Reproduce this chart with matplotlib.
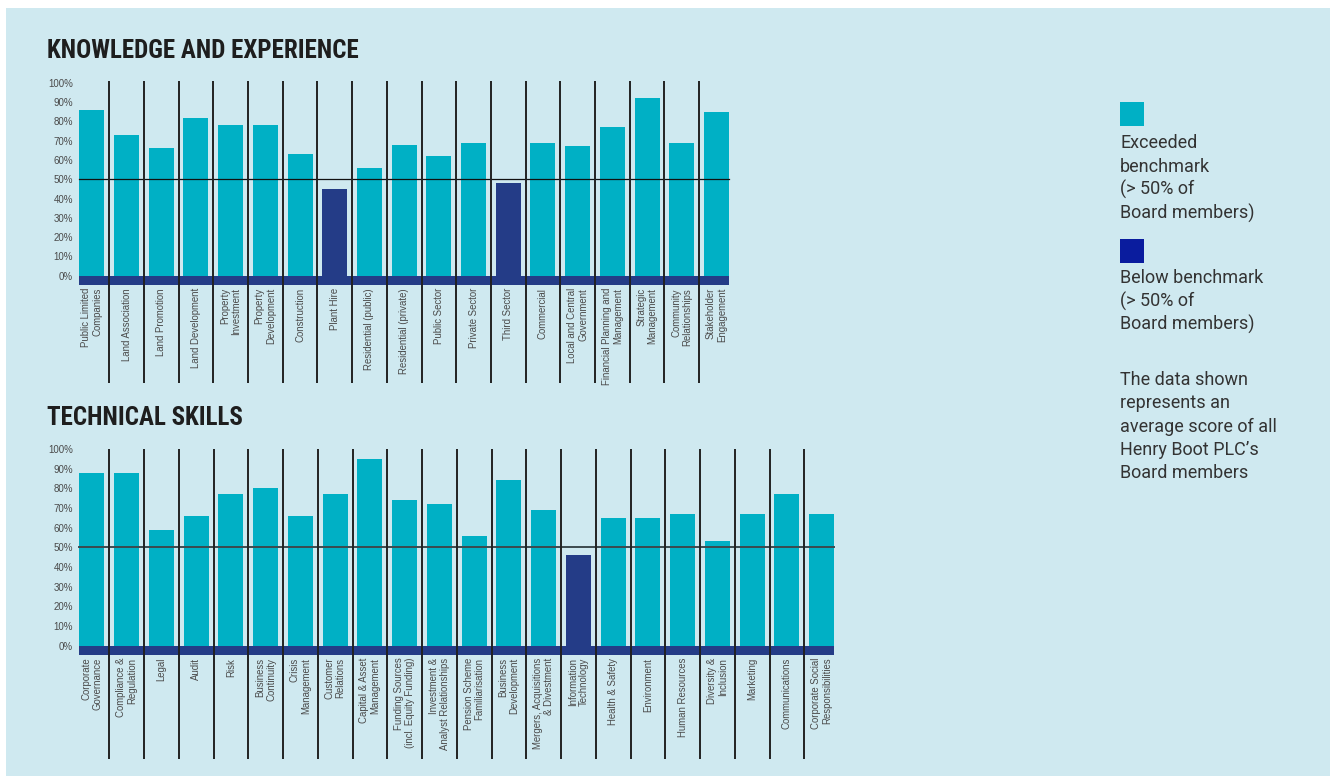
import matplotlib
matplotlib.use("Agg")
import matplotlib.pyplot as plt
from matplotlib.patches import Rectangle
from matplotlib import font_manager as fm

# ---------------- data ----------------
knowledge_categories = [
    "Public Limited\nCompanies", "Land Association", "Land Promotion", "Land Development",
    "Property\nInvestment", "Property\nDevelopment", "Construction", "Plant Hire",
    "Residential (public)", "Residential (private)", "Public Sector", "Private Sector",
    "Third Sector", "Commercial", "Local and Central\nGovernment",
    "Financial Planning and\nManagement", "Strategic\nManagement",
    "Community\nRelationships", "Stakeholder\nEngagement",
]
knowledge_values = [86, 73, 66, 82, 78, 78, 63, 45, 56, 68, 62, 69, 48, 69, 67, 77, 92, 69, 85]

technical_categories = [
    "Corporate\nGovernance", "Compliance &\nRegulation", "Legal", "Audit", "Risk",
    "Business\nContinuity", "Crisis\nManagement", "Customer\nRelations",
    "Capital & Asset\nManagement", "Funding Sources\n(incl. Equity Funding)",
    "Investment &\nAnalyst Relationships", "Pension Scheme\nFamiliarisation",
    "Business\nDevelopment", "Mergers, Acquisitions\n& Divestment",
    "Information\nTechnology", "Health & Safety", "Environment", "Human Resources",
    "Diversity &\nInclusion", "Marketing", "Communications",
    "Corporate Social\nResponsibilities",
]
technical_values = [88, 88, 59, 66, 77, 80, 66, 77, 95, 74, 72, 56, 84, 69, 46, 65, 65, 67, 53, 67, 77, 67]

benchmark = 50
y_ticks = list(range(0, 101, 10))
y_tick_labels = [f"{v}%" for v in y_ticks]

# ---------------- styles ----------------
BG = "#cfe9f0"
CYAN = "#00b0c5"
NAVY = "#243c87"
LEGEND_NAVY = "#0a1c9e"
DIV = "#222222"
TXT = "#4a4a4a"

names = {f.name for f in fm.fontManager.ttflist}
title_family = [n for n in ["Roboto Condensed", "Liberation Sans Narrow", "Liberation Sans"] if n in names][:1] or ["DejaVu Sans"]
label_family = ["Liberation Sans", "DejaVu Sans"]
legend_family = ["Roboto", "Liberation Sans", "DejaVu Sans"]

W, H = 1337, 776
fig = plt.figure(figsize=(W / 100, H / 100), dpi=100, facecolor="white")
fig.patches.append(Rectangle((6 / W, 0), (1330 - 6) / W, (H - 8) / H,
                             transform=fig.transFigure, facecolor=BG, edgecolor="none", zorder=-5))


def px_axes(left, top, width, bottom):
    return fig.add_axes([left / W, (H - bottom) / H, width / W, (bottom - top) / H])


def draw_panel(ax, cats, vals, ylo, yhi, band_h, grid_color, grid_lw):
    n = len(cats)
    ax.set_facecolor("none")
    ax.set_xlim(-0.5, n - 0.5)
    ax.set_ylim(ylo, yhi)
    for s in ax.spines.values():
        s.set_visible(False)
    colors = [NAVY if v < benchmark else CYAN for v in vals]
    bw = 0.72
    ax.bar(range(n), vals, width=bw, color=colors, zorder=2)
    ax.add_patch(Rectangle((-bw / 2, -band_h), n - 1 + bw, band_h,
                           facecolor=NAVY, edgecolor="none", zorder=3))
    ax.plot([-bw / 2, n - 1 + bw / 2], [benchmark, benchmark], color=grid_color, lw=grid_lw, zorder=4)
    for k in range(1, n):
        ax.axvline(k - 0.5, color=DIV, lw=1.4, zorder=5)
    ax.set_xticks([])
    ax.set_yticks(y_ticks)
    ax.set_yticklabels(y_tick_labels, fontsize=7, color=TXT, family=label_family)
    ax.tick_params(axis="y", length=0, pad=1)
    for i, c in enumerate(cats):
        ax.text(i, -band_h - 1.6, c, rotation=90, ha="center", va="top", multialignment="right",
                fontsize=6.9, color=TXT, family=label_family, linespacing=1.15)


# top chart: 0% at y=275.7px, 1.928 px per %
ax1 = px_axes(74.5, 80.7, 19 * 34.7, 382.7)
draw_panel(ax1, knowledge_categories, knowledge_values, -55.5, 101.1, 4.8, "#111111", 0.9)

# bottom chart: 0% at y=645px, 1.98 px per %
ax2 = px_axes(74.5, 449, 22 * 34.75, 759)
draw_panel(ax2, technical_categories, technical_values, -57.6, 99.0, 4.5, "#3c4a4e", 1.4)

# titles
fig.text(47 / W, 1 - 57.5 / H, "KNOWLEDGE AND EXPERIENCE", ha="left", va="baseline",
         fontsize=18, color="#1e1e1e", family=title_family, fontweight="bold")
fig.text(47 / W, 1 - 424.5 / H, "TECHNICAL SKILLS", ha="left", va="baseline",
         fontsize=18, color="#1e1e1e", family=title_family, fontweight="bold")

# legend
fig.patches.append(Rectangle((1120 / W, 1 - 126 / H), 24 / W, 24 / H, transform=fig.transFigure,
                             facecolor=CYAN, edgecolor="none"))
fig.patches.append(Rectangle((1120 / W, 1 - 263 / H), 24 / W, 24 / H, transform=fig.transFigure,
                             facecolor=LEGEND_NAVY, edgecolor="none"))
legend_lines = [
    (148.3, "Exceeded"), (171.7, "benchmark"), (195.0, "(> 50% of"), (218.3, "Board members)"),
    (283.3, "Below benchmark"), (306.7, "(> 50% of"), (330.0, "Board members)"),
    (385.0, "The data shown"), (408.3, "represents an"), (431.7, "average score of all"),
    (455.0, "Henry Boot PLC\u2019s"), (478.3, "Board members"),
]
for yb, t in legend_lines:
    fig.text(1120 / W, 1 - yb / H, t, ha="left", va="baseline", fontsize=13,
             color="#333333", family=legend_family)

fig.savefig("out.png", dpi=100, facecolor="white")
